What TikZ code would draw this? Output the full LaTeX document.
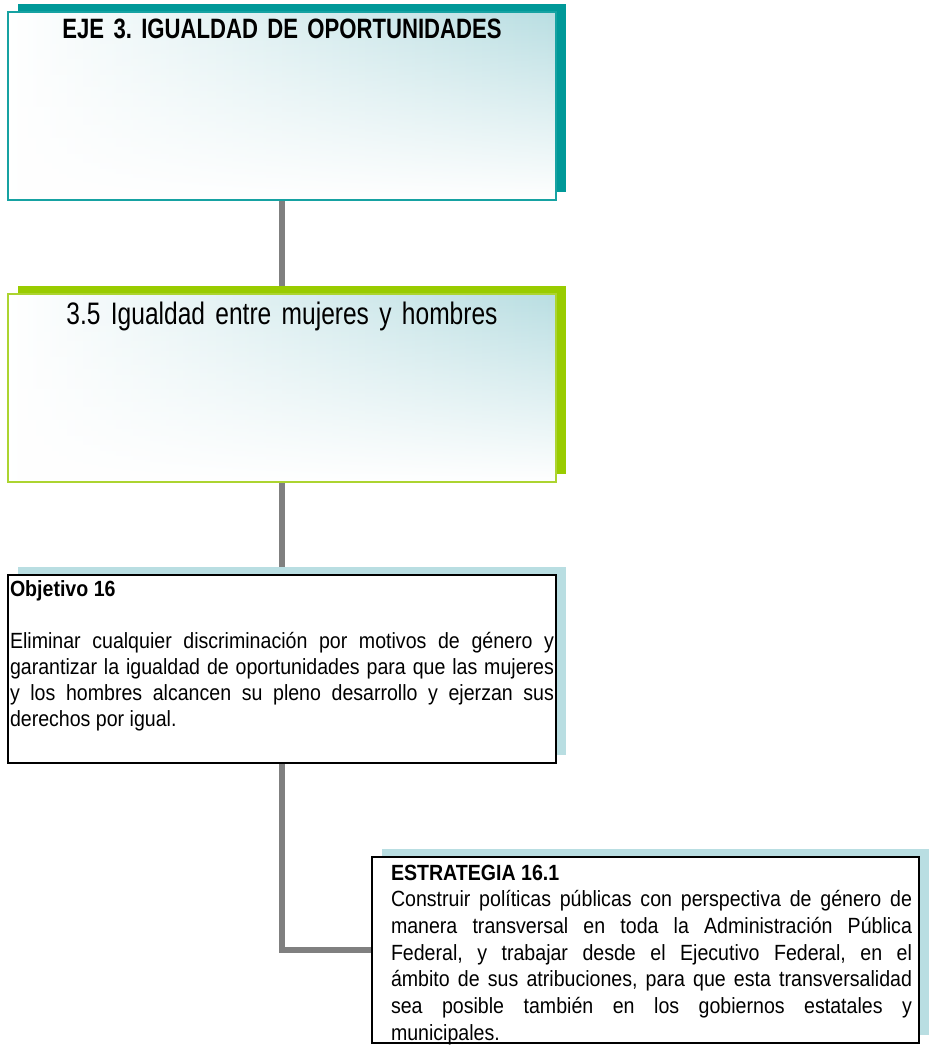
\documentclass[tikz,border=0pt]{standalone}
\usepackage{fontspec}
\setmainfont{Liberation Sans}[FakeStretch=0.89]
\newfontfamily\headfont{Liberation Sans}[FakeStretch=0.79]
\usetikzlibrary{positioning,shadows,fadings,backgrounds}

\definecolor{ejeteal}{RGB}{0,153,153}
\definecolor{ejeline}{RGB}{22,162,162}
\definecolor{temagreen}{RGB}{153,204,0}
\definecolor{temaline}{RGB}{172,212,48}
\definecolor{tint}{RGB}{185,222,226}
\definecolor{linkgray}{RGB}{128,128,128}

\tikzfading[name=boxfade, top color=transparent!100, middle color=transparent!45, bottom color=transparent!0]

\frenchspacing
\begin{document}
\begin{tikzpicture}[x=0.75pt,y=-0.75pt,
    box node/.style={rectangle, inner ysep=0pt, outer sep=0pt},
    grad node/.style={box node, inner xsep=0pt, text width=411pt, align=center,
      left color=white, middle color=tint!45, right color=tint,
      path picture={\fill[white,path fading=boxfade] (path picture bounding box.south west) rectangle (path picture bounding box.north east);}},
    eje node/.style={grad node, draw=ejeline, line width=1.1pt,
      drop shadow={shadow xshift=7.5pt, shadow yshift=6pt, fill=ejeteal, opacity=1},
      text height=19.5pt, text depth=121.5pt, font=\headfont\bfseries\fontsize{21}{25}\selectfont},
    tema node/.style={grad node, draw=temaline, line width=1.1pt,
      drop shadow={shadow xshift=7.5pt, shadow yshift=6pt, fill=temagreen, opacity=1},
      text height=22.5pt, text depth=118.5pt, font=\headfont\fontsize{23.3}{28}\selectfont},
    text node/.style={box node, fill=white, draw=black, line width=1.2pt, align=justify,
      drop shadow={shadow xshift=7.5pt, shadow yshift=6pt, fill=tint, opacity=1}},
    link/.style={draw=linkgray, line width=3.8pt}]

  \useasboundingbox (0,0) rectangle (930,1046);

  %Boxes%
  \node[eje node] (eje) at (282,106) {EJE 3. IGUALDAD DE OPORTUNIDADES};
  \node[tema node] (tema) [below=70.5pt of eje] {3.5 Igualdad entre mujeres y hombres};
  \node[text node, inner xsep=1.5pt, text width=408pt, text height=15.75pt, text depth=125.25pt,
        font=\fontsize{16.5}{19.5}\selectfont]
    (obj) [below=69.75pt of tema]
    {\textbf{Objetivo 16}\par\vspace{19.5pt}
     Eliminar cualquier discriminación por motivos de género y\linebreak
     garantizar la igualdad de oportunidades para que las mujeres\linebreak
     y los hombres alcancen su pleno desarrollo y ejerzan sus\linebreak
     derechos por igual.};
  \node[text node, inner xsep=5.25pt, text width=399.75pt, text height=17.25pt, text depth=122.25pt,
        font=\fontsize{16.5}{20}\selectfont]
    (estr) at (645.5,950)
    {\leftskip=9pt \textbf{ESTRATEGIA 16.1}\newline
     Construir políticas públicas con perspectiva de género de\linebreak
     manera transversal en toda la Administración Pública\linebreak
     Federal, y trabajar desde el Ejecutivo Federal, en el\linebreak
     ámbito de sus atribuciones, para que esta transversalidad\linebreak
     sea posible también en los gobiernos estatales y\linebreak
     municipales.\par};

  %Links%
  \begin{scope}[on background layer]
    \draw[link] (eje) -- (tema);
    \draw[link] (tema) -- (obj);
    \draw[link] (obj.south) |- (estr.west);
  \end{scope}
\end{tikzpicture}
\end{document}
